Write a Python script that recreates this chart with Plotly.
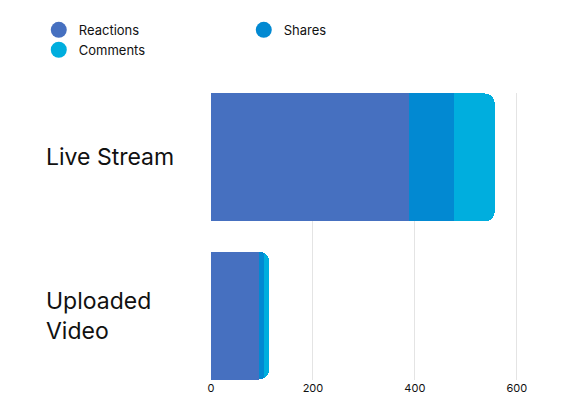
import plotly.graph_objects as go

categories = ["Uploaded Video", "Live Stream"]
labels = ["Uploaded<br>Video", "Live Stream"]
series = ["Reactions", "Shares", "Comments"]
reactions = [94, 388]
shares = [10, 88]
comments = [10, 81]
colors = ["#4670c0", "#0289d2", "#00aede"]
ticks = [0, 200, 400, 600]

fig = go.Figure()
for name, vals, c in zip(series, [reactions, shares, comments], colors):
    fig.add_trace(go.Bar(y=[0, 1], x=vals, orientation="h", marker=dict(color=c, line=dict(width=0)),
                         name=name, showlegend=False))
for name, c in zip(series, colors):
    fig.add_trace(go.Scatter(x=[None], y=[None], mode="markers", name=name,
                             marker=dict(color=c, size=24, symbol="circle")))

for i, lab in enumerate(labels):
    fig.add_annotation(x=-0.53, xref="paper", y=i, yref="y", text=lab, showarrow=False,
                       xanchor="left", align="left", font=dict(size=23, color="#111", family="Inter"))

fig.update_layout(
    width=580, height=400, barmode="stack", bargap=0.19, barcornerradius=10,
    margin=dict(l=203, r=61, t=85, b=28, autoexpand=False),
    paper_bgcolor="white", plot_bgcolor="white",
    font=dict(family="Inter", color="#111"),
    xaxis=dict(range=[0, 620], tickvals=ticks, showgrid=True, gridcolor="#e4e4e4",
               zeroline=False, tickfont=dict(size=11), showline=False, automargin=False),
    yaxis=dict(range=[-0.408, 1.408], showticklabels=False, showgrid=False, zeroline=False,
               automargin=False),
    legend=dict(orientation="h", x=-0.545, y=1.185, xanchor="left", yanchor="middle",
                traceorder="normal", entrywidth=160, entrywidthmode="pixels",
                font=dict(size=13)),
)
fig.write_html("out.html")
